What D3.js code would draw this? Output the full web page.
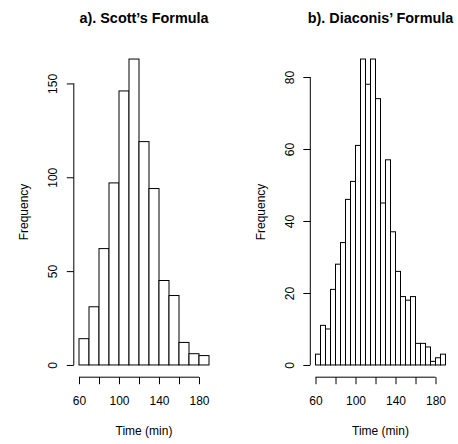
<!DOCTYPE html>
<html>
<head>
<meta charset="utf-8">
<script src="https://cdn.jsdelivr.net/npm/d3@7"></script>
<style>
    body { margin: 0; background: #fff; }
    text { font-family: "Liberation Sans", Arial, Helvetica, sans-serif; fill: #000; }
</style>
</head>
<body>
<div id="graph"></div>
<script>
// bins (left edges + last right edge) and counts
const scottBreaks = [60, 70, 80, 90, 100, 110, 120, 130, 140, 150, 160, 170, 180, 190];
const scottCounts = [14, 31, 62, 97, 146, 163, 119, 94, 45, 37, 12, 6, 5];

const diaconisBreaks = [60, 65, 70, 75, 80, 85, 90, 95, 100, 105, 110, 115, 120, 125,
    130, 135, 140, 145, 150, 155, 160, 165, 170, 175, 180, 185, 190];
const diaconisCounts = [3, 11, 10, 21, 28, 34, 46, 51, 61, 85, 78, 85, 74, 45,
    57, 37, 26, 19, 18, 19, 6, 6, 5, 1, 2, 3];

const xTicks = [60, 80, 100, 120, 140, 160, 180];
const xTickLabels = ["60", "", "100", "", "140", "", "180"];
const scottYTicks = [0, 50, 100, 150];
const diaconisYTicks = [0, 20, 40, 60, 80];

const titles = ["a). Scott\u2019s Formula", "b). Diaconis\u2019 Formula"];
const xLabel = "Time (min)";
const yLabel = "Frequency";

const width = 458, height = 444;
const plotTop = 46.8, plotBottom = 377.2, plotWidth = 140.4;
const tick = 7;

var svg = d3.select("#graph")
    .append("svg")
    .attr("width", width)
    .attr("height", height);

function histogram(left, title, breaks, counts, yTicks) {
    var g = svg.append("g");

    // R style: 4% padding on both ends
    var xMin = breaks[0], xMax = breaks[breaks.length - 1];
    var xPad = 0.04 * (xMax - xMin);
    var x = d3.scaleLinear()
        .domain([xMin - xPad, xMax + xPad])
        .range([left, left + plotWidth]);

    var yMax = d3.max(counts);
    var y = d3.scaleLinear()
        .domain([-0.04 * yMax, 1.04 * yMax])
        .range([plotBottom, plotTop]);

    // bars
    g.selectAll("rect")
        .data(counts)
        .join("rect")
        .attr("x", (d, i) => x(breaks[i]))
        .attr("y", d => y(d))
        .attr("width", (d, i) => x(breaks[i + 1]) - x(breaks[i]))
        .attr("height", d => y(0) - y(d))
        .attr("fill", "#fff")
        .attr("stroke", "#000")
        .attr("stroke-width", 1);

    // x axis
    var xAxis = g.append("g")
        .attr("transform", "translate(0," + plotBottom + ")")
        .call(d3.axisBottom(x)
            .tickValues(xTicks)
            .tickFormat((d, i) => xTickLabels[i])
            .tickSize(tick)
            .tickPadding(15));
    xAxis.select(".domain").remove();
    xAxis.append("line")
        .attr("x1", x(xTicks[0]))
        .attr("x2", x(xTicks[xTicks.length - 1]))
        .attr("stroke", "#000");
    xAxis.selectAll(".tick line").attr("stroke", "#000");
    xAxis.selectAll(".tick text")
        .attr("dy", null)
        .attr("y", 28.3)
        .attr("font-size", 12)
        .style("font-family", "Liberation Sans, Arial, sans-serif");

    // y axis
    var yAxis = g.append("g")
        .attr("transform", "translate(" + left + ",0)")
        .call(d3.axisLeft(y)
            .tickValues(yTicks)
            .tickSize(tick));
    yAxis.select(".domain").remove();
    yAxis.append("line")
        .attr("y1", y(yTicks[0]))
        .attr("y2", y(yTicks[yTicks.length - 1]))
        .attr("stroke", "#000");
    yAxis.selectAll(".tick line").attr("stroke", "#000");
    yAxis.selectAll(".tick text")
        .attr("x", null)
        .attr("dy", null)
        .attr("text-anchor", "middle")
        .attr("transform", "translate(-16.5,0) rotate(-90)")
        .attr("font-size", 12)
        .style("font-family", "Liberation Sans, Arial, sans-serif");

    // titles
    var cx = left + plotWidth / 2;
    g.append("text")
        .attr("x", cx)
        .attr("y", 23)
        .attr("text-anchor", "middle")
        .attr("font-size", 14.4)
        .attr("font-weight", "bold")
        .text(title);

    g.append("text")
        .attr("x", cx)
        .attr("y", 435)
        .attr("text-anchor", "middle")
        .attr("font-size", 12)
        .text(xLabel);

    g.append("text")
        .attr("transform", "translate(" + (left - 45.5) + "," + ((plotTop + plotBottom) / 2) + ") rotate(-90)")
        .attr("text-anchor", "middle")
        .attr("font-size", 12)
        .text(yLabel);
}

histogram(73.8, titles[0], scottBreaks, scottCounts, scottYTicks);
histogram(310.3, titles[1], diaconisBreaks, diaconisCounts, diaconisYTicks);
</script>
</body>
</html>
